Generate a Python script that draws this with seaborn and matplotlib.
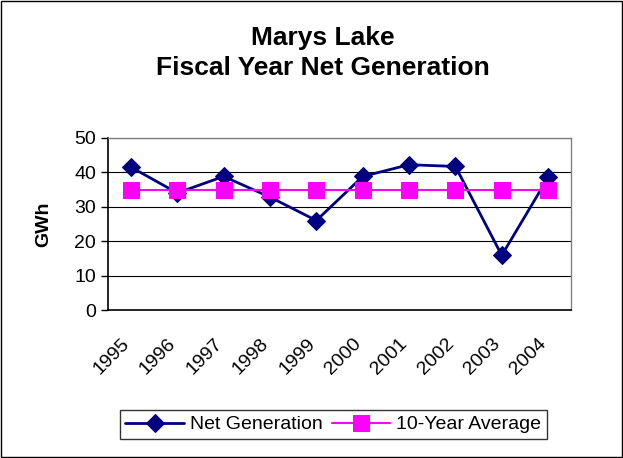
import numpy as np
import pandas as pd
import matplotlib
matplotlib.use("Agg")
import matplotlib.pyplot as plt
import matplotlib.transforms as mtransforms
import seaborn as sns

# chart data
years = ["1995", "1996", "1997", "1998", "1999", "2000", "2001", "2002", "2003", "2004"]
net_generation = [41.5, 34.0, 38.8, 32.8, 26.0, 38.8, 42.2, 41.7, 15.9, 38.5]
ten_year_avg = [35.0] * 10

sns.set_style("white")
plt.rcParams['font.family'] = ['Liberation Sans', 'DejaVu Sans']
plt.rcParams['text.color'] = 'black'
plt.rcParams['xtick.color'] = 'black'
plt.rcParams['ytick.color'] = 'black'
plt.rcParams['axes.labelcolor'] = 'black'

df = pd.DataFrame({
    "idx": np.arange(len(years)),
    "Net Generation": net_generation,
    "10-Year Average": ten_year_avg,
})

fig = plt.figure(figsize=(6.23, 4.58), dpi=100)
ax = fig.add_axes([0.173, 0.323, 0.744, 0.376])

sns.lineplot(data=df, x="idx", y="Net Generation", ax=ax, color="#000080",
             marker="D", markersize=9, linewidth=2, markeredgecolor="#000080",
             label="Net Generation")
sns.lineplot(data=df, x="idx", y="10-Year Average", ax=ax, color="#FF00FF",
             marker="s", markersize=11, linewidth=1.5, markeredgecolor="#FF00FF",
             label="10-Year Average")

ax.set_xlim(-0.5, len(years) - 0.5)
ax.set_ylim(0, 50)
ax.set_yticks(range(0, 51, 10))
ax.yaxis.grid(True, color="black", linewidth=0.8)
ax.set_axisbelow(True)

ax.set_xticks(np.arange(len(years)))
ax.set_xticklabels(years, rotation=45, ha="right", rotation_mode="anchor")
ax.set_xticks(np.arange(-0.5, len(years)), minor=True)
ax.tick_params(axis="x", which="major", length=0, pad=18, labelsize=14)
ax.tick_params(axis="x", which="minor", length=5, width=1, color="black", direction="out")
ax.tick_params(axis="y", length=5, width=1, color="black", direction="out", labelsize=14, left=True)

# nudge rotated year labels to the left like the original
offset = mtransforms.ScaledTranslation(-10 / 100, 0, fig.dpi_scale_trans)
for lbl in ax.get_xticklabels():
    lbl.set_transform(lbl.get_transform() + offset)

ax.set_xlabel("")
ax.set_ylabel("GWh", fontsize=14, fontweight="bold", labelpad=16)

for side in ["left", "bottom"]:
    ax.spines[side].set_color("black")
    ax.spines[side].set_linewidth(1.2)
for side in ["top", "right"]:
    ax.spines[side].set_color("#808080")
    ax.spines[side].set_linewidth(1)

fig.text(0.518, 0.884, "Marys Lake\nFiscal Year Net Generation", ha="center", va="center",
         fontsize=19, fontweight="bold", linespacing=1.3, color="black")

ax.get_legend().remove()
handles, labels = ax.get_legend_handles_labels()
leg = fig.legend(handles, labels, loc="center", bbox_to_anchor=(0.535, 0.073), ncol=2,
                 frameon=True, fancybox=False, edgecolor="black", fontsize=14,
                 handlelength=3, columnspacing=0.5, handletextpad=0.3, borderpad=0.3)
leg.get_frame().set_linewidth(1)

# outer border
fig.patches.append(plt.Rectangle((0.002, 0.002), 0.996, 0.996, transform=fig.transFigure,
                                 fill=False, edgecolor="black", linewidth=1))

fig.savefig("out.png", dpi=100)
